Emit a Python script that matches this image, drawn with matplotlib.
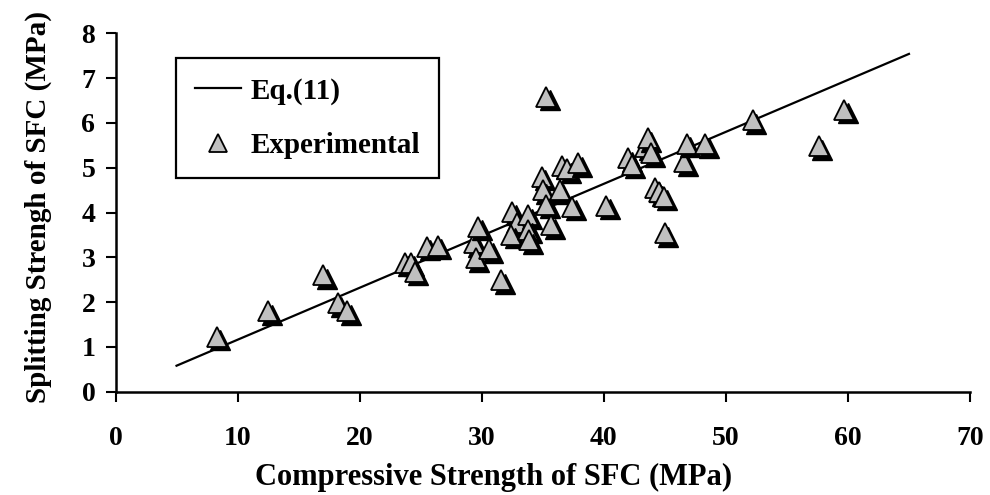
#!/usr/bin/env python3

import matplotlib
matplotlib.use('Agg')
import matplotlib.pyplot as plt
import matplotlib.transforms as mtransforms
from matplotlib.lines import Line2D

# Experimental points
fc = [8.3, 12.5, 17.0, 18.2, 19.0, 23.7, 24.2, 24.5, 25.5, 26.4,
      29.4, 29.7, 29.5, 30.6, 31.6, 32.5, 32.9, 32.4, 33.8, 33.8,
      33.9, 34.9, 35.0, 35.3, 35.7, 35.3, 36.4, 36.6, 37.0, 37.4,
      37.9, 40.2, 42.0, 42.3, 43.4, 43.6, 43.9, 44.2, 44.5, 44.9,
      45.0, 46.6, 46.8, 48.3, 52.2, 57.6, 59.7]
fsp = [1.23, 1.80, 2.60, 1.97, 1.80, 2.88, 2.88, 2.68, 3.24, 3.26,
       3.31, 3.68, 2.98, 3.18, 2.49, 4.02, 3.77, 3.50, 3.94, 3.61,
       3.38, 4.80, 4.50, 4.17, 3.72, 6.58, 4.50, 5.04, 4.97, 4.13,
       5.10, 4.15, 5.21, 5.07, 5.47, 5.66, 5.32, 4.54, 4.45, 4.35,
       3.54, 5.12, 5.54, 5.52, 6.06, 5.48, 6.29]

# Eq.(11) line end points
eq_x = [5, 65]
eq_y = [0.58, 7.54]

xticks = [0, 10, 20, 30, 40, 50, 60, 70]
yticks = [0, 1, 2, 3, 4, 5, 6, 7, 8]

plt.rcParams['font.family'] = ['Liberation Serif', 'DejaVu Serif']
plt.rcParams['font.weight'] = 'bold'

fig = plt.figure(figsize=(9.9, 4.95), dpi=100)
ax = fig.add_axes([115.5 / 990, 1 - 391.7 / 495, 854.5 / 990, 358.4 / 495])

ax.plot(eq_x, eq_y, color='black', lw=1.6, zorder=2)

# Excel-style drop shadow: black copy shifted right/down
shadow = mtransforms.offset_copy(ax.transData, fig=fig, x=3.5, y=-3.5, units='dots')
z = 3
for x, y in zip(fc, fsp):
    ax.plot([x], [y], marker='^', ms=14, color='black', mec='black',
            transform=shadow, zorder=z, clip_on=False)
    ax.plot([x], [y], marker='^', ms=14, color='#C0C0C0', mec='black',
            mew=1.3, zorder=z + 1, clip_on=False)
    z += 2

ax.set_xlim(0, 70)
ax.set_ylim(0, 8)
ax.set_xticks(xticks)
ax.set_yticks(yticks)
ax.tick_params(direction='out', length=7.5, width=1.5, labelsize=20)
ax.tick_params(axis='x', pad=17)
ax.tick_params(axis='y', pad=7)
for lab in ax.get_xticklabels() + ax.get_yticklabels():
    lab.set_fontweight('bold')

for s in ['top', 'right']:
    ax.spines[s].set_visible(False)
for s in ['left', 'bottom']:
    ax.spines[s].set_linewidth(1.8)

ax.set_xlabel('Compressive Strength of SFC (MPa)', fontsize=22, fontweight='bold')
ax.set_ylabel('Splitting Strengh of SFC (MPa)', fontsize=21, fontweight='bold')
ax.xaxis.set_label_coords(0.443, -0.2)
ax.yaxis.set_label_coords(-0.074, 0.515)

handles = [Line2D([], [], color='black', lw=1.6),
           Line2D([], [], ls='none', marker='^', ms=13, color='#C0C0C0', mec='black', mew=1.3)]
leg = ax.legend(handles, ['Eq.(11)', 'Experimental'], loc='upper left',
                bbox_to_anchor=(0.0705, 0.93), borderaxespad=0, fontsize=21,
                handlelength=1.6, handletextpad=0.3, labelspacing=0.95,
                borderpad=0.65, fancybox=False, framealpha=1)
leg.get_frame().set_edgecolor('black')
leg.get_frame().set_linewidth(1.6)
leg.set_zorder(200)

fig.savefig('out.png', dpi=100)
